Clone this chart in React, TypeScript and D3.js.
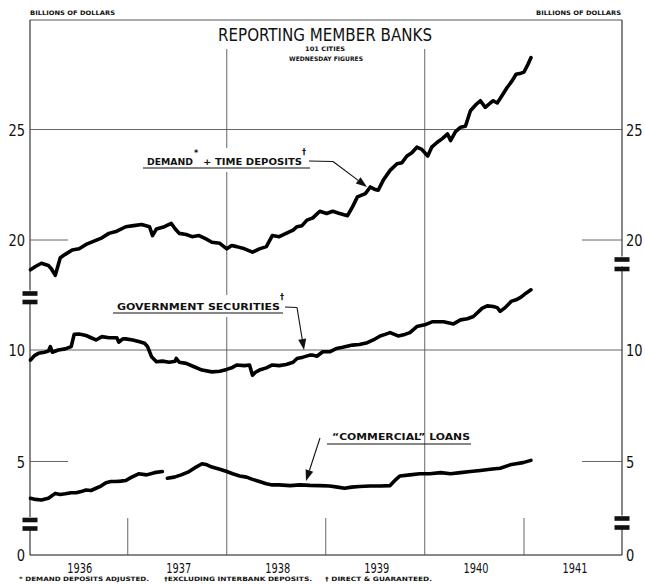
import React from 'react';
import * as d3 from 'd3';

// ---- Data (decimal years, billions of dollars) ----
const depositYears = [1936.02,1936.07,1936.13,1936.20,1936.23,1936.27,1936.32,1936.37,1936.44,1936.51,1936.58,1936.66,1936.74,1936.81,1936.89,1936.98,1937.06,1937.14,1937.22,1937.25,1937.29,1937.37,1937.44,1937.48,1937.52,1937.59,1937.65,1937.72,1937.79,1937.85,1937.93,1938.00,1938.05,1938.10,1938.18,1938.26,1938.33,1938.40,1938.46,1938.53,1938.60,1938.67,1938.71,1938.76,1938.81,1938.87,1938.94,1939.01,1939.07,1939.14,1939.22,1939.27,1939.32,1939.40,1939.45,1939.49,1939.53,1939.58,1939.65,1939.72,1939.77,1939.82,1939.87,1939.92,1939.97,1940.03,1940.07,1940.12,1940.18,1940.23,1940.26,1940.31,1940.36,1940.41,1940.46,1940.51,1940.56,1940.61,1940.66,1940.69,1940.73,1940.76,1940.83,1940.88,1940.92,1940.97,1941.00,1941.04,1941.07];
const depositValues = [18.65,18.8,18.95,18.85,18.7,18.4,19.2,19.35,19.55,19.6,19.8,19.95,20.1,20.3,20.4,20.6,20.65,20.7,20.6,20.2,20.5,20.6,20.75,20.5,20.3,20.25,20.15,20.2,20.05,19.9,19.85,19.6,19.75,19.7,19.6,19.45,19.6,19.7,20.2,20.15,20.3,20.45,20.6,20.65,20.9,21.0,21.3,21.2,21.3,21.2,21.1,21.5,21.95,22.1,22.4,22.3,22.25,22.7,23.15,23.45,23.5,23.8,23.95,24.2,24.1,23.8,24.2,24.4,24.6,24.8,24.5,24.9,25.1,25.15,25.85,26.1,26.3,26.0,26.2,26.3,26.2,26.4,26.9,27.2,27.5,27.55,27.6,27.95,28.25];

const govtYears = [1936.02,1936.06,1936.10,1936.16,1936.20,1936.22,1936.24,1936.30,1936.37,1936.43,1936.46,1936.51,1936.58,1936.63,1936.68,1936.74,1936.81,1936.89,1936.91,1936.95,1936.98,1937.05,1937.12,1937.17,1937.20,1937.24,1937.29,1937.35,1937.42,1937.48,1937.49,1937.52,1937.59,1937.67,1937.75,1937.85,1937.93,1938.00,1938.05,1938.10,1938.18,1938.23,1938.26,1938.29,1938.33,1938.40,1938.46,1938.53,1938.60,1938.67,1938.71,1938.77,1938.84,1938.87,1938.91,1938.97,1939.04,1939.11,1939.17,1939.27,1939.34,1939.42,1939.48,1939.55,1939.60,1939.65,1939.73,1939.80,1939.85,1939.92,1940.00,1940.08,1940.19,1940.29,1940.36,1940.43,1940.49,1940.58,1940.63,1940.69,1940.73,1940.76,1940.81,1940.87,1940.92,1940.97,1941.02,1941.07];
const govtValues = [9.55,9.75,9.85,9.9,9.95,10.15,9.9,10.0,10.05,10.15,10.7,10.72,10.65,10.55,10.45,10.6,10.55,10.55,10.35,10.5,10.5,10.45,10.37,10.3,10.15,9.7,9.47,9.5,9.45,9.5,9.62,9.45,9.4,9.25,9.1,9.02,9.05,9.13,9.2,9.33,9.3,9.33,8.87,9.0,9.1,9.2,9.33,9.3,9.35,9.45,9.62,9.68,9.77,9.77,9.72,9.92,9.92,10.07,10.12,10.22,10.25,10.33,10.45,10.63,10.7,10.78,10.63,10.7,10.78,11.05,11.13,11.27,11.27,11.17,11.35,11.4,11.5,11.88,11.98,11.95,11.9,11.73,11.9,12.18,12.25,12.37,12.55,12.7];

const loanYears1 = [1936.02,1936.07,1936.13,1936.20,1936.27,1936.32,1936.37,1936.43,1936.48,1936.53,1936.58,1936.63,1936.68,1936.73,1936.78,1936.83,1936.88,1936.93,1936.98,1937.04,1937.11,1937.19,1937.27,1937.35];
const loanValues1 = [3.35,3.3,3.27,3.35,3.57,3.52,3.55,3.6,3.6,3.65,3.72,3.7,3.8,3.9,4.05,4.1,4.1,4.12,4.15,4.3,4.45,4.4,4.5,4.55];
const loanYears2 = [1937.40,1937.47,1937.54,1937.62,1937.69,1937.75,1937.80,1937.85,1937.93,1938.00,1938.06,1938.13,1938.20,1938.26,1938.33,1938.40,1938.46,1938.53,1938.64,1938.74,1938.84,1938.94,1939.04,1939.12,1939.19,1939.26,1939.34,1939.45,1939.55,1939.65,1939.71,1939.75,1939.85,1939.95,1940.05,1940.16,1940.26,1940.36,1940.46,1940.56,1940.66,1940.76,1940.86,1940.92,1940.99,1941.07];
const loanValues2 = [4.25,4.3,4.4,4.55,4.75,4.9,4.85,4.75,4.65,4.55,4.45,4.35,4.3,4.2,4.1,4.0,3.95,3.95,3.92,3.95,3.93,3.92,3.9,3.85,3.8,3.85,3.88,3.9,3.9,3.92,4.2,4.35,4.4,4.45,4.45,4.5,4.45,4.5,4.55,4.6,4.65,4.7,4.85,4.9,4.95,5.05];

const yearLabels = ['1936', '1937', '1938', '1939', '1940', '1941'];
const upperTicks = [20, 25];
const lowerTicks = [5, 10];
const footnotes = ['* DEMAND DEPOSITS ADJUSTED.', '†EXCLUDING INTERBANK DEPOSITS.', '† DIRECT & GUARANTEED.'];

const W = 645, H = 584;
const L = 30, R = 622, T = 20, B = 555;

function toDate(y: number): Date {
  const yr = Math.floor(y);
  const s = new Date(yr, 0, 1).getTime();
  const e = new Date(yr + 1, 0, 1).getTime();
  return new Date(s + (y - yr) * (e - s));
}

const x = d3.scaleTime().domain([new Date(1936, 0, 1), new Date(1942, 0, 1)]).range([28.5, 623]);
const yUpper = d3.scaleLinear().domain([20, 25]).range([240, 129.5]);
const yLower = d3.scaleLinear().domain([5, 10]).range([461.5, 350]);

type P = [Date, number];
const zip = (ys: number[], vs: number[]): P[] => ys.map((y, i) => [toDate(y), vs[i]]);

const lineU = d3.line<P>().x(d => x(d[0])).y(d => yUpper(d[1]));
const lineL = d3.line<P>().x(d => x(d[0])).y(d => yLower(d[1]));

const narrow = "'DejaVu Sans Condensed', 'Liberation Sans', sans-serif";
const boldF = "'DejaVu Sans', 'Liberation Sans', sans-serif";
const ink = '#111';
const grid = '#555';

function Arrow({ x1, y1, x2, y2 }: { x1: number; y1: number; x2: number; y2: number }) {
  const a = Math.atan2(y2 - y1, x2 - x1);
  const len = 11, w = 4;
  const bx = x2 - len * Math.cos(a), by = y2 - len * Math.sin(a);
  const px = -Math.sin(a) * w, py = Math.cos(a) * w;
  return (
    <g>
      <line x1={x1} y1={y1} x2={bx} y2={by} stroke={ink} strokeWidth={1.1} />
      <polygon points={`${x2},${y2} ${bx + px},${by + py} ${bx - px},${by - py}`} fill={ink} />
    </g>
  );
}

function Break({ cx, c1, c2 }: { cx: number; c1: number; c2: number }) {
  return (
    <g>
      <rect x={cx - 5} y={c1 - 3} width={10} height={10} fill="white" />
      <rect x={cx - 7.5} y={c1 - 2.3} width={15} height={4.6} fill={ink} />
      <rect x={cx - 7.5} y={c2 - 2.3} width={15} height={4.6} fill={ink} />
    </g>
  );
}

function Num({ v, xx, yy, anchor }: { v: number; xx: number; yy: number; anchor: 'start' | 'end' }) {
  const s = String(v);
  return (
    <text x={xx} y={yy} textAnchor={anchor} fontFamily={narrow} fontSize={16}
      textLength={s.length * 8.3} lengthAdjust="spacingAndGlyphs" fill={ink}>{s}</text>
  );
}

export default function App() {
  const dep = zip(depositYears, depositValues);
  const gov = zip(govtYears, govtValues);
  const l1 = zip(loanYears1, loanValues1);
  const l2 = zip(loanYears2, loanValues2);
  const yearStarts = yearLabels.map(y => new Date(+y, 0, 1));
  const x1938 = x(new Date(1938, 0, 1));
  const x1940 = x(new Date(1940, 0, 1));
  const shortTicks = [1937, 1939, 1941].map(y => x(new Date(y, 0, 1)));

  return (
    <svg width={W} height={H} style={{ position: 'absolute', left: 0, top: 0, background: 'white' }}>
      <rect x={0} y={0} width={W} height={H} fill="white" />
      {/* header */}
      <text x={30} y={15} fontFamily={boldF} fontWeight="bold" fontSize={6.2} textLength={85} lengthAdjust="spacingAndGlyphs" fill={ink}>BILLIONS OF DOLLARS</text>
      <text x={536} y={15} fontFamily={boldF} fontWeight="bold" fontSize={6.2} textLength={85} lengthAdjust="spacingAndGlyphs" fill={ink}>BILLIONS OF DOLLARS</text>
      <text x={218} y={41} fontFamily={narrow} fontSize={18.5} textLength={214} lengthAdjust="spacingAndGlyphs" fill={ink}>REPORTING MEMBER BANKS</text>
      <text x={305} y={51} fontFamily={boldF} fontWeight="bold" fontSize={6.2} textLength={40} lengthAdjust="spacingAndGlyphs" fill={ink}>101 CITIES</text>
      <text x={289} y={61} fontFamily={boldF} fontWeight="bold" fontSize={6.2} textLength={74} lengthAdjust="spacingAndGlyphs" fill={ink}>WEDNESDAY FIGURES</text>

      {/* frame */}
      <line x1={L} y1={T} x2={R} y2={T} stroke={grid} strokeWidth={1} />
      <line x1={L} y1={T} x2={L} y2={B} stroke={ink} strokeWidth={1} />
      <line x1={R} y1={T} x2={R} y2={B} stroke={ink} strokeWidth={1} />
      <line x1={L} y1={B} x2={R} y2={B} stroke={ink} strokeWidth={1} />

      {/* horizontal grid */}
      <line x1={L} x2={R} y1={yUpper(25)} y2={yUpper(25)} stroke={grid} strokeWidth={0.9} />
      <line x1={L} x2={R} y1={yLower(10)} y2={yLower(10)} stroke={grid} strokeWidth={0.9} />
      {[yUpper(20), yLower(5)].map((yy, i) => (
        <g key={i}>
          <line x1={L} x2={68} y1={yy} y2={yy} stroke={grid} strokeWidth={0.9} />
          <line x1={582} x2={R} y1={yy} y2={yy} stroke={grid} strokeWidth={0.9} />
        </g>
      ))}

      {/* vertical grid */}
      <line x1={x1938} x2={x1938} y1={49} y2={148} stroke={grid} strokeWidth={0.9} />
      <line x1={x1938} x2={x1938} y1={172} y2={295} stroke={grid} strokeWidth={0.9} />
      <line x1={x1938} x2={x1938} y1={317} y2={B} stroke={grid} strokeWidth={0.9} />
      <line x1={x1940} x2={x1940} y1={49} y2={B} stroke={grid} strokeWidth={0.9} />
      {shortTicks.map((xx, i) => (
        <line key={i} x1={xx} x2={xx} y1={518} y2={B} stroke={grid} strokeWidth={0.9} />
      ))}

      {/* axis breaks */}
      <Break cx={L} c1={293.5} c2={302} />
      <Break cx={L} c1={520} c2={528.5} />
      <Break cx={R} c1={259.5} c2={269} />
      <Break cx={R} c1={518.5} c2={527.5} />

      {/* y tick labels */}
      {upperTicks.map(v => (
        <g key={'u' + v}>
          <Num v={v} xx={25} yy={yUpper(v) + 6} anchor="end" />
          <Num v={v} xx={626} yy={yUpper(v) + 6} anchor="start" />
        </g>
      ))}
      {lowerTicks.map(v => (
        <g key={'l' + v}>
          <Num v={v} xx={25} yy={yLower(v) + 6} anchor="end" />
          <Num v={v} xx={626} yy={yLower(v) + 6} anchor="start" />
        </g>
      ))}
      <Num v={0} xx={25} yy={B + 6} anchor="end" />
      <Num v={0} xx={626} yy={B + 6} anchor="start" />

      {/* year labels */}
      {yearStarts.map((d, i) => (
        <text key={i} x={x(new Date(d.getFullYear(), 6, 1)) + 2} y={573} textAnchor="middle" fontFamily={narrow} fontSize={13.5} textLength={25} lengthAdjust="spacingAndGlyphs" fill={ink}>{yearLabels[i]}</text>
      ))}

      {/* footnotes */}
      <text x={19} y={580.5} fontFamily={boldF} fontWeight="bold" fontSize={6} textLength={130} lengthAdjust="spacingAndGlyphs" fill={ink}>{footnotes[0]}</text>
      <text x={164} y={580.5} fontFamily={boldF} fontWeight="bold" fontSize={6} textLength={148} lengthAdjust="spacingAndGlyphs" fill={ink}>{footnotes[1]}</text>
      <text x={325} y={580.5} fontFamily={boldF} fontWeight="bold" fontSize={6} textLength={107} lengthAdjust="spacingAndGlyphs" fill={ink}>{footnotes[2]}</text>

      {/* series */}
      <g fill="none" stroke="#000" strokeWidth={3.6} strokeLinejoin="round" strokeLinecap="round">
        <path d={lineU(dep) || ''} />
        <path d={lineL(gov) || ''} />
        <path d={lineL(l1) || ''} />
        <path d={lineL(l2) || ''} />
      </g>

      {/* labels */}
      <g fill={ink} fontFamily={boldF} fontWeight="bold" fontSize={8.5}>
        <text x={147} y={165} textLength={46} lengthAdjust="spacingAndGlyphs">DEMAND</text>
        <text x={194} y={156} fontSize={8}>*</text>
        <text x={203} y={165} textLength={99} lengthAdjust="spacingAndGlyphs">+ TIME DEPOSITS</text>
        <text x={302} y={155} fontSize={8}>†</text>
        <line x1={143} x2={310} y1={168} y2={168} stroke={ink} strokeWidth={1.1} />

        <text x={117} y={310} textLength={163} lengthAdjust="spacingAndGlyphs">GOVERNMENT  SECURITIES</text>
        <text x={280} y={300} fontSize={8}>†</text>
        <line x1={113} x2={283} y1={313} y2={313} stroke={ink} strokeWidth={1.1} />

        <text x={332} y={440} textLength={138} lengthAdjust="spacingAndGlyphs">“COMMERCIAL” LOANS</text>
        <line x1={327} x2={471} y1={444} y2={444} stroke={ink} strokeWidth={1.1} />
      </g>
      <line x1={309} y1={161} x2={333} y2={161.5} stroke={ink} strokeWidth={1.1} />
      <Arrow x1={333} y1={161.5} x2={367} y2={187} />
      <line x1={285} y1={307} x2={297} y2={307.5} stroke={ink} strokeWidth={1.1} />
      <Arrow x1={297} y1={307.5} x2={304} y2={350} />
      <Arrow x1={320} y1={438} x2={306} y2={481} />
    </svg>
  );
}
